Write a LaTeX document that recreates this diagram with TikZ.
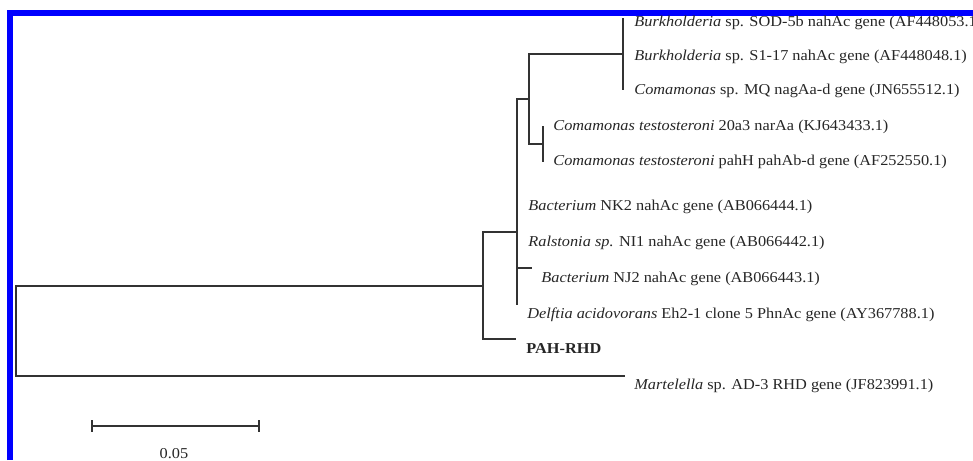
\documentclass[tikz,border=0pt]{standalone}
\usepackage{fontspec}
\setmainfont{Liberation Serif}[FakeStretch=1.08]
\usetikzlibrary{positioning}

\tikzset{
  branch/.style={line width=0.95pt, draw=black!80},
  taxon/.style={anchor=base west, inner sep=0pt, font=\fontsize{7.55}{9}\selectfont, text=black!85},
}

\begin{document}
\begin{tikzpicture}[x=0.5pt, y=-0.5pt]
\useasboundingbox (0,0) rectangle (973,460);
% blue frame
\draw[blue, line width=2.85pt] (9.85,460) -- (9.85,12.85) -- (973,12.85);

% inner nodes
\coordinate (root) at (16,331);
\coordinate (nA) at (483,286);
\coordinate (nB) at (517,232);
\coordinate (nC) at (529,99);
\coordinate (nD) at (623,54);
\coordinate (nE) at (543,144);
% tips
\coordinate (t1) at (623,18);
\coordinate (t3) at (623,90);
\coordinate (t4) at (543,126);
\coordinate (t5) at (543,162);
\coordinate (t8) at (532,268);
\coordinate (t9) at (517,305);
\coordinate (t10) at (516,339);
\coordinate (t11) at (625,376);

\draw[branch]
  (root) |- (nA)  (root) |- (t11)
  (nA) |- (nB)  (nA) |- (t10)
  (nB) |- (nC)  (nB) |- (t8)  (nB) |- (t9)
  (nC) |- (nD)  (nC) |- (nE)
  (nD) |- (t1)  (nD) |- (t3)
  (nE) |- (t4)  (nE) |- (t5)
;

% labels
\node[taxon] (l1) at (634,26.5) {\textit{Burkholderia} sp. SOD-5b nahAc gene (AF448053.1)};
\node[taxon] (l2) at (634,60.5) {\textit{Burkholderia} sp. S1-17 nahAc gene (AF448048.1)};
\node[taxon] (l3) at (634,95) {\textit{Comamonas} sp. MQ nagAa-d gene (JN655512.1)};
\node[taxon] (l4) at (553,130) {\textit{Comamonas testosteroni} 20a3 narAa (KJ643433.1)};
\node[taxon] (l5) at (553,165) {\textit{Comamonas testosteroni} pahH pahAb-d gene (AF252550.1)};
\node[taxon] (l6) at (528,210) {\textit{Bacterium} NK2 nahAc gene (AB066444.1)};
\node[taxon] (l7) at (528,246.5) {\textit{Ralstonia sp.} NI1 nahAc gene (AB066442.1)};
\node[taxon] (l8) at (541,282.5) {\textit{Bacterium} NJ2 nahAc gene (AB066443.1)};
\node[taxon] (l9) at (527,318) {\textit{Delftia acidovorans} Eh2-1 clone 5 PhnAc gene (AY367788.1)};
\node[taxon] (l10) at (526,353.5) {\textbf{PAH-RHD}};
\node[taxon] (l11) at (634,389) {\textit{Martelella} sp. AD-3 RHD gene (JF823991.1)};

% scale bar
\coordinate (s0) at (92,426);
\coordinate (s1) at (259,426);
\draw[branch] (s0) -- (s1);
\draw[branch] (s0) ++(0,-6) -- ++(0,12);
\draw[branch] (s1) ++(0,-6) -- ++(0,12);
\node[taxon, anchor=base] (slab) at (174,458) {0.05};
\end{tikzpicture}
\end{document}
